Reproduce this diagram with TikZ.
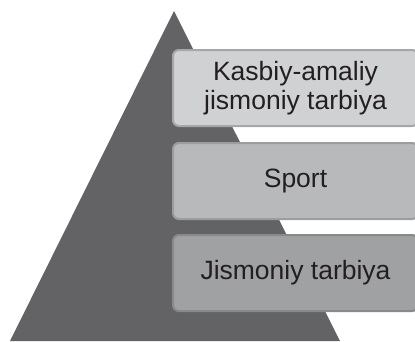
\documentclass[tikz,border=0pt]{standalone}
\usepackage{fontspec}
\setmainfont{Liberation Sans}
\definecolor{pyr}{RGB}{99,99,101}
\definecolor{txt}{RGB}{35,31,32}
\definecolor{lvla}{RGB}{208,209,211}
\definecolor{lvlb}{RGB}{184,185,187}
\definecolor{lvlc}{RGB}{160,161,163}

\begin{document}
\begin{tikzpicture}[x=1pt,y=1pt,
  level/.style={rounded corners=6pt, line width=2pt, minimum width=245pt, minimum height=76pt, inner sep=0pt, align=center, text=txt, font=\fontsize{26.5}{29}\selectfont}]
\useasboundingbox (0,0) rectangle (415,341);
\fill [pyr] (10,0) -- (174,330) -- (340,0) -- cycle;
\node [level, fill=lvla, draw=lvla!80!black] (prof) at (295.5,253) {Kasbiy-amaliy\\jismoniy tarbiya};
\node [level, fill=lvlb, draw=lvlb!85!black] (sport) at (295.5,160) {Sport};
\node [level, fill=lvlc, draw=lvlc!85!black] (phys) at (295.5,68) {Jismoniy tarbiya};
\end{tikzpicture}
\end{document}
